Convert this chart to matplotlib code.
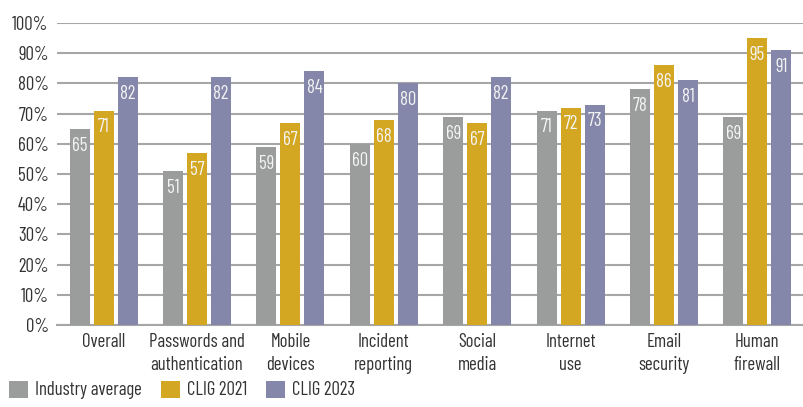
import matplotlib
matplotlib.use("Agg")
import matplotlib.pyplot as plt
import numpy as np
from matplotlib.patches import Patch

plt.rcParams['font.family'] = ['Barlow Condensed', 'DejaVu Sans']

categories = ["Overall", "Passwords and\nauthentication", "Mobile\ndevices", "Incident\nreporting",
              "Social\nmedia", "Internet\nuse", "Email\nsecurity", "Human\nfirewall"]
series_names = ["Industry average", "CLIG 2021", "CLIG 2023"]
industry_avg = [65, 51, 59, 60, 69, 71, 78, 69]
clig_2021 = [71, 57, 67, 68, 67, 72, 86, 95]
clig_2023 = [82, 82, 84, 80, 82, 73, 81, 91]
colors = ["#9a9d9c", "#d4a722", "#8487a9"]
yticks = [0, 10, 20, 30, 40, 50, 60, 70, 80, 90, 100]
ytick_labels = [f"{v}%" for v in yticks]

fig = plt.figure(figsize=(8.04, 4.07), dpi=100)
ax = fig.add_axes([57 / 804, 1 - 325 / 407, 747 / 804, 302 / 407])

x = np.arange(len(categories))
width = 0.214
offset = 0.257
text_color = "#333333"

for i, (vals, col) in enumerate(zip([industry_avg, clig_2021, clig_2023], colors)):
    pos = x + (i - 1) * offset
    ax.bar(pos, vals, width=width, color=col, zorder=3)
    for px, v in zip(pos, vals):
        ax.text(px, v - 5.6, f"{v}", ha="center", va="center", color="#f4f4f4",
                fontsize=13.5, zorder=4)

ax.set_xlim(-0.5, len(categories) - 0.5)
ax.set_ylim(0, 100)
ax.set_yticks(yticks)
ax.set_yticklabels(ytick_labels, fontsize=13.5, color=text_color)
ax.yaxis.grid(True, color="#a6a6a6", linewidth=1.5, zorder=0)
ax.set_axisbelow(True)
ax.tick_params(axis="y", length=0, pad=6)
ax.tick_params(axis="x", length=0, pad=6)
ax.set_xticks(x)
ax.set_xticklabels(categories, fontsize=13.5, color=text_color, linespacing=1.3)
for s in ["top", "right", "left"]:
    ax.spines[s].set_visible(False)
ax.spines["bottom"].set_color("#a6a6a6")
ax.spines["bottom"].set_linewidth(1.5)

handles = [Patch(facecolor=c, edgecolor="none") for c in colors]
fig.legend(handles, series_names, loc="center left", bbox_to_anchor=(9 / 804, 1 - 390 / 407),
           ncol=3, frameon=False, fontsize=13.5, handlelength=1.02, handleheight=1.02,
           handletextpad=0.38, columnspacing=1.0, labelcolor=text_color,
           borderaxespad=0, borderpad=0)

fig.savefig("out.png", dpi=100)
